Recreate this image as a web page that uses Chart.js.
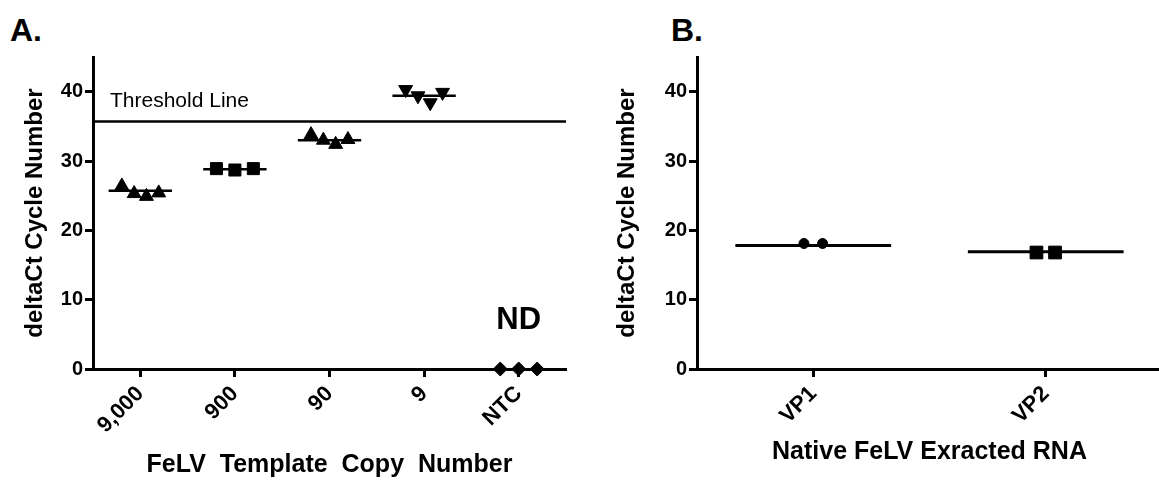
<!DOCTYPE html>
<html>
<head>
<meta charset="utf-8">
<title>FeLV deltaCt</title>
<script src="https://cdn.jsdelivr.net/npm/chart.js@4.4.1/dist/chart.umd.min.js"></script>
<style>
  html, body { margin: 0; padding: 0; background: #fff; }
  #wrap { position: relative; width: 1159px; height: 480px; background: #fff; overflow: hidden; }
  .panel-label { position: absolute; font: bold 32px "Liberation Sans", Arial, sans-serif; line-height: 32px; color: #000; }
  .box { position: absolute; top: 0; height: 480px; }
</style>
</head>
<body>
<div id="wrap">
  <div class="panel-label" style="left:10px; top:14px;">A.</div>
  <div class="panel-label" style="left:671px; top:14px;">B.</div>
  <div class="box" style="left:0; width:590px;"><canvas id="chartA"></canvas></div>
  <div class="box" style="left:600px; width:572px;"><canvas id="chartB"></canvas></div>
</div>
<script>
// Panel A - template dilutions
const categoriesA = ['9,000', '900', '90', '9', 'NTC'];
const ctA_9000 = [26.4, 25.3, 24.9, 25.4];
const ctA_900 = [28.9, 28.7, 28.9];
const ctA_90 = [33.8, 33.0, 32.4, 33.1];
const ctA_9 = [40.3, 39.4, 38.4, 39.9];
const ctA_ntc = [0, 0, 0];
const meanA = [25.7, 28.8, 33.0, 39.4, 0];
const thresholdCt = 35.7;

// Panel B - native extracted RNA
const categoriesB = ['VP1', 'VP2'];
const ctB_vp1 = [18.1, 18.1];
const ctB_vp2 = [16.8, 16.8];
const meanB = [17.8, 16.9];

const yTicks = [0, 10, 20, 30, 40];

const FONT = '"Liberation Sans", Arial, sans-serif';

// spread replicate points sideways around their category
function dots(values, index, spread) {
    const n = values.length;
    return values.map((v, j) => ({
        x: index + (n > 1 ? (j / (n - 1) - 0.5) * spread : 0),
        y: v
    }));
}

function pointSet(values, index, spread, style, radius, rotation) {
    return {
        data: dots(values, index, spread),
        showLine: false,
        pointStyle: style,
        pointRadius: radius,
        pointHoverRadius: radius,
        pointRotation: rotation || 0,
        backgroundColor: '#000',
        borderColor: '#000',
        borderWidth: 1,
        clip: false
    };
}

function meanLine(mean, index, halfWidth, width) {
    return {
        data: [{ x: index - halfWidth, y: mean }, { x: index + halfWidth, y: mean }],
        showLine: true,
        pointRadius: 0,
        borderColor: '#000',
        borderWidth: width,
        clip: false
    };
}

function yScale(boxWidth, titlePad) {
    return {
        type: 'linear',
        min: 0,
        max: 45,
        afterBuildTicks: scale => { scale.ticks = yTicks.map(v => ({ value: v })); },
        afterFit: scale => { scale.width = boxWidth; },
        border: { display: true, color: '#000', width: 3 },
        grid: { drawOnChartArea: false, tickLength: 8, tickWidth: 3, tickColor: '#000' },
        ticks: { color: '#000', padding: 2, font: { family: FONT, size: 20, weight: 'bold' } },
        title: {
            display: true,
            text: 'deltaCt Cycle Number',
            color: '#000',
            padding: { top: titlePad, bottom: 0 },
            font: { family: FONT, size: 24, weight: 'bold' }
        }
    };
}

function xScale(labels, maxValue, boxHeight, title, titleBottom) {
    return {
        type: 'linear',
        min: -0.5,
        max: maxValue,
        afterBuildTicks: scale => { scale.ticks = labels.map((_, i) => ({ value: i })); },
        afterFit: scale => { scale.height = boxHeight; },
        border: { display: true, color: '#000', width: 3 },
        grid: { drawOnChartArea: false, tickLength: 8, tickWidth: 3, tickColor: '#000' },
        ticks: {
            color: '#000',
            autoSkip: false,
            minRotation: 45,
            maxRotation: 45,
            padding: 4,
            font: { family: FONT, size: 22, weight: 'bold' },
            callback: v => labels[v]
        },
        title: {
            display: true,
            text: title,
            color: '#000',
            padding: { top: 0, bottom: titleBottom },
            font: { family: FONT, size: 25, weight: 'bold' }
        }
    };
}

// threshold caption and "ND" marker
const annotationsA = {
    id: 'annotationsA',
    afterDatasetsDraw(chart) {
        const ctx = chart.ctx;
        const xs = chart.scales.x, ys = chart.scales.y;
        ctx.save();
        ctx.fillStyle = '#000';
        ctx.textBaseline = 'middle';
        ctx.textAlign = 'left';
        ctx.font = '21px ' + FONT;
        ctx.fillText('Threshold Line', xs.getPixelForValue(-0.5) + 17, ys.getPixelForValue(thresholdCt) - 20);
        ctx.textAlign = 'center';
        ctx.font = 'bold 31px ' + FONT;
        ctx.fillText('ND', xs.getPixelForValue(4), ys.getPixelForValue(7));
        ctx.restore();
    }
};

const commonOptions = {
    responsive: true,
    maintainAspectRatio: false,
    animation: false,
    plugins: { legend: { display: false }, tooltip: { enabled: false } }
};

const chartA = new Chart(document.getElementById('chartA'), {
    type: 'scatter',
    data: {
        datasets: [
            meanLine(thresholdCt, 2, 2.5, 2.5),
            meanLine(meanA[0], 0, 0.335, 2.5),
            meanLine(meanA[1], 1, 0.335, 2.5),
            meanLine(meanA[2], 2, 0.335, 2.5),
            meanLine(meanA[3], 3, 0.335, 2.5),
            pointSet(ctA_9000, 0, 0.39, 'triangle', 8),
            pointSet(ctA_900, 1, 0.39, 'rect', 8.5),
            pointSet(ctA_90, 2, 0.39, 'triangle', 8),
            pointSet(ctA_9, 3, 0.39, 'triangle', 8, 180),
            pointSet(ctA_ntc, 4, 0.39, 'rectRot', 7)
        ]
    },
    options: Object.assign({}, commonOptions, {
        layout: { padding: { top: 57, left: 10, right: 24, bottom: 0 } },
        scales: {
            x: xScale(categoriesA, 4.5, 111, 'FeLV  Template  Copy  Number', 0),
            y: yScale(83, 11)
        }
    }),
    plugins: [annotationsA]
});

const chartB = new Chart(document.getElementById('chartB'), {
    type: 'scatter',
    data: {
        datasets: [
            meanLine(meanB[0], 0, 0.335, 3),
            meanLine(meanB[1], 1, 0.335, 3),
            pointSet(ctB_vp1, 0, 0.08, 'circle', 5),
            pointSet(ctB_vp2, 1, 0.08, 'rect', 9)
        ]
    },
    options: Object.assign({}, commonOptions, {
        layout: { padding: { top: 57, left: 0, right: 0, bottom: 0 } },
        scales: {
            x: xScale(categoriesB, 1.5, 111, 'Native FeLV Exracted RNA', 13),
            y: yScale(97, 13)
        }
    })
});
</script>
</body>
</html>
